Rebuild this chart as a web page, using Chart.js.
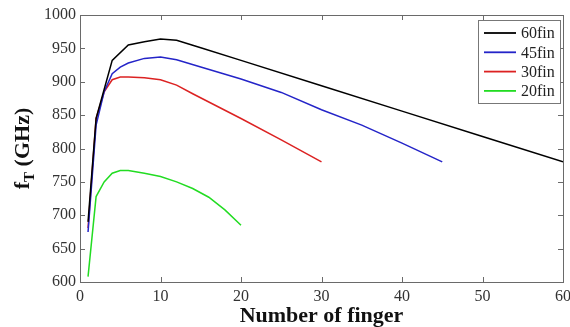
<!DOCTYPE html>
<html>
<head>
<meta charset="utf-8">
<script src="https://cdn.jsdelivr.net/npm/chart.js@4/dist/chart.umd.min.js"></script>
<style>
  html, body { margin: 0; padding: 0; background: #fff; }
  canvas { display: block; }
</style>
</head>
<body>
<canvas id="ft-chart" width="570" height="327"></canvas>
<script>
// f_T versus number of fingers, one curve per total fin count
const seriesLabels = ['60fin', '45fin', '30fin', '20fin'];
const seriesColors = ['#000000', '#2424c8', '#dc2222', '#22dc22'];

const fingers60 = [1, 2, 4, 6, 8, 10, 12, 15, 20, 30, 40, 50, 60];
const ft60 = [690, 845, 932, 955, 960, 964, 962, 951, 932, 894, 856, 818, 780];

const fingers45 = [1, 2, 3, 4, 5, 6, 8, 10, 12, 15, 20, 25, 30, 35, 40, 45];
const ft45 = [675, 835, 885, 912, 922, 928, 935, 937, 933, 922, 904, 884, 858, 835, 808, 780];

const fingers30 = [1, 2, 3, 4, 5, 6, 8, 10, 12, 14, 20, 25, 30];
const ft30 = [681, 845, 885, 903, 907, 907, 906, 903, 895, 882, 845, 813, 780];

const fingers20 = [1, 2, 3, 4, 5, 6, 8, 10, 12, 14, 16, 18, 20];
const ft20 = [608, 728, 750, 763, 767, 767, 763, 758, 750, 740, 727, 708, 685];

const xTicks = [0, 10, 20, 30, 40, 50, 60];
const yTicks = [600, 650, 700, 750, 800, 850, 900, 950, 1000];

const serif = '"Liberation Serif", "DejaVu Serif", serif';

function toPoints(xs, ys) {
  return xs.map((x, i) => ({ x: x, y: ys[i] }));
}

const allX = [fingers60, fingers45, fingers30, fingers20];
const allY = [ft60, ft45, ft30, ft20];

const datasets = seriesLabels.map((label, i) => ({
  label: label,
  data: toPoints(allX[i], allY[i]),
  borderColor: seriesColors[i],
  backgroundColor: seriesColors[i],
  borderWidth: 1.5,
  pointRadius: 0,
  tension: 0,
  fill: false
}));

// box, inward ticks, legend and the y title drawn straight onto the canvas
const frameAndLegend = {
  id: 'frameAndLegend',
  afterDraw(chart) {
    const ctx = chart.ctx;
    const area = chart.chartArea;
    const xs = chart.scales.x;
    const ys = chart.scales.y;
    const tick = 5;

    ctx.save();
    ctx.strokeStyle = '#6a6a6a';
    ctx.lineWidth = 1;
    ctx.strokeRect(Math.round(area.left) + 0.5, Math.round(area.top) + 0.5,
      Math.round(area.right - area.left), Math.round(area.bottom - area.top));

    ctx.beginPath();
    xTicks.forEach(v => {
      const px = Math.round(xs.getPixelForValue(v)) + 0.5;
      ctx.moveTo(px, area.bottom); ctx.lineTo(px, area.bottom - tick);
      ctx.moveTo(px, area.top); ctx.lineTo(px, area.top + tick);
    });
    yTicks.forEach(v => {
      const py = Math.round(ys.getPixelForValue(v)) + 0.5;
      ctx.moveTo(area.left, py); ctx.lineTo(area.left + tick, py);
      ctx.moveTo(area.right, py); ctx.lineTo(area.right - tick, py);
    });
    ctx.stroke();

    // legend box in the upper right corner
    const boxW = 82, boxH = 83, rowH = 19.3;
    const bx = area.right - 3 - boxW;
    const by = area.top + 5;
    ctx.fillStyle = '#fff';
    ctx.fillRect(bx, by, boxW, boxH);
    ctx.strokeStyle = '#777';
    ctx.strokeRect(Math.round(bx) + 0.5, Math.round(by) + 0.5, boxW, boxH);
    ctx.font = '16px ' + serif;
    ctx.textBaseline = 'middle';
    ctx.textAlign = 'left';
    chart.data.datasets.forEach((ds, i) => {
      const cy = by + 13 + i * rowH;
      ctx.strokeStyle = ds.borderColor;
      ctx.lineWidth = 1.8;
      ctx.beginPath();
      ctx.moveTo(bx + 6, cy);
      ctx.lineTo(bx + 38, cy);
      ctx.stroke();
      ctx.fillStyle = '#222';
      ctx.fillText(ds.label, bx + 43, cy + 1);
    });

    // rotated y title with subscript T
    ctx.translate(21, (area.top + area.bottom) / 2);
    ctx.rotate(-Math.PI / 2);
    ctx.fillStyle = '#111';
    ctx.textBaseline = 'alphabetic';
    const big = 'bold 22px ' + serif;
    const small = 'bold 15px ' + serif;
    ctx.font = big;
    const wF = ctx.measureText('f').width;
    const wRest = ctx.measureText(' (GHz)').width;
    ctx.font = small;
    const wT = ctx.measureText('T').width;
    let x0 = -(wF + wT + wRest) / 2;
    const base = 8;
    ctx.font = big;
    ctx.fillText('f', x0, base);
    x0 += wF;
    ctx.font = small;
    ctx.fillText('T', x0, base + 5);
    x0 += wT;
    ctx.font = big;
    ctx.fillText(' (GHz)', x0, base);
    ctx.restore();
  }
};

new Chart(document.getElementById('ft-chart').getContext('2d'), {
  type: 'line',
  data: { datasets: datasets },
  options: {
    responsive: false,
    animation: false,
    layout: { padding: { top: 15, right: 7, left: 0, bottom: 0 } },
    plugins: {
      legend: { display: false },
      tooltip: { enabled: false }
    },
    scales: {
      x: {
        type: 'linear',
        min: 0,
        max: 60,
        afterFit(scale) {
          scale.height = 45;
          scale.paddingRight = 0;
          scale.paddingLeft = 0;
        },
        afterBuildTicks(scale) { scale.ticks = xTicks.map(v => ({ value: v })); },
        grid: { display: false, drawTicks: false },
        border: { display: false },
        ticks: {
          color: '#333', padding: 5, maxRotation: 0,
          font: { family: serif, size: 16 },
          callback: v => String(v)
        },
        title: {
          display: true,
          text: 'Number of finger',
          color: '#111',
          padding: { top: 0, bottom: 0 },
          font: { family: serif, size: 22, weight: 'bold', lineHeight: 1.0 }
        }
      },
      y: {
        type: 'linear',
        min: 600,
        max: 1000,
        afterFit(scale) { scale.width = 80; },
        afterBuildTicks(scale) { scale.ticks = yTicks.map(v => ({ value: v })); },
        grid: { display: false, drawTicks: false },
        border: { display: false },
        ticks: {
          color: '#333', padding: 4,
          font: { family: serif, size: 16 },
          callback: v => String(v)
        }
      }
    }
  },
  plugins: [frameAndLegend]
});
</script>
</body>
</html>
